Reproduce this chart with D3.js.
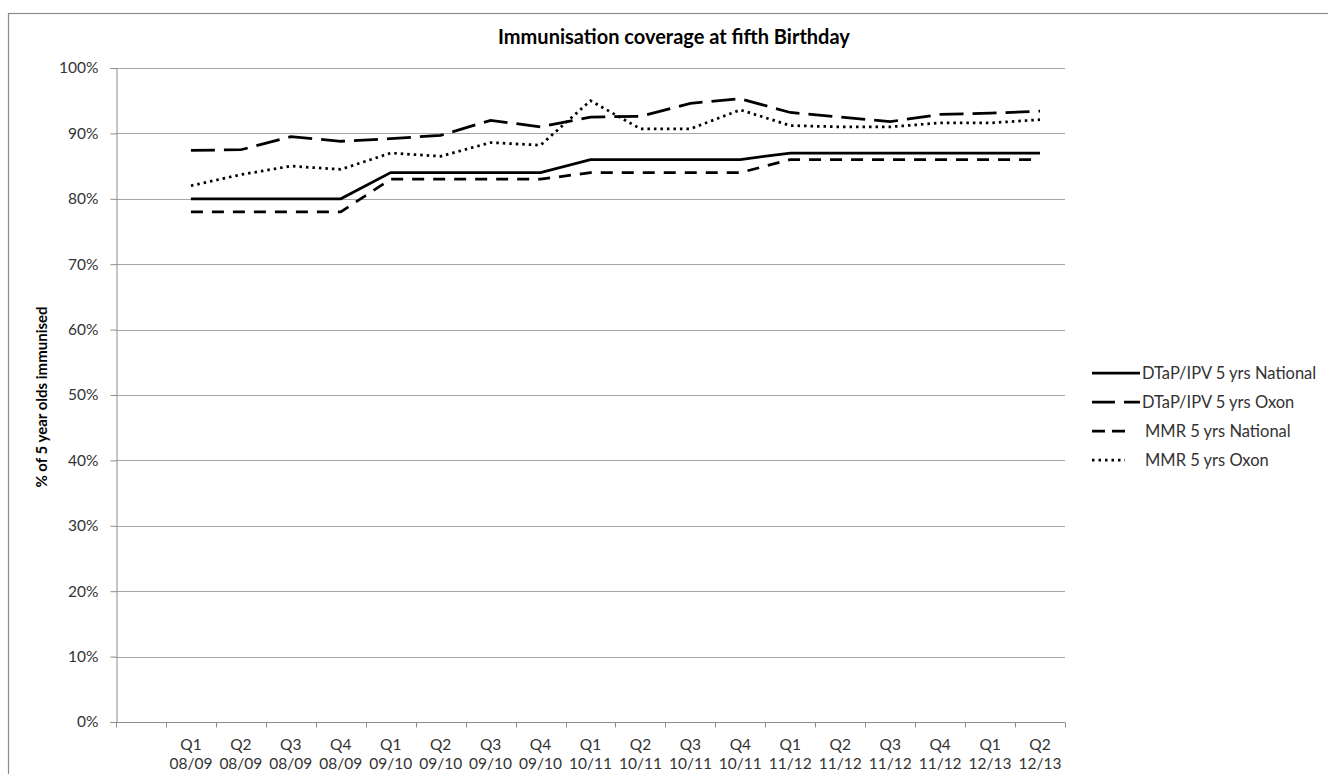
<!DOCTYPE html>
<html>
<head>
<meta charset="utf-8">
<script src="https://cdn.jsdelivr.net/npm/d3@7"></script>
<style>
  body { margin: 0; background: #fff; }
  svg { display: block; font-family: Lato, "Open Sans", sans-serif; }
</style>
</head>
<body>
<svg id="chart" width="1328" height="774"></svg>
<script>
// quarters (first band is left blank, as in the original sheet)
var quarters = ['', 'Q1|08/09', 'Q2|08/09', 'Q3|08/09', 'Q4|08/09',
  'Q1|09/10', 'Q2|09/10', 'Q3|09/10', 'Q4|09/10',
  'Q1|10/11', 'Q2|10/11', 'Q3|10/11', 'Q4|10/11',
  'Q1|11/12', 'Q2|11/12', 'Q3|11/12', 'Q4|11/12',
  'Q1|12/13', 'Q2|12/13'];

var dtapNational = [80, 80, 80, 80, 84, 84, 84, 84, 86, 86, 86, 86, 87, 87, 87, 87, 87, 87];
var dtapOxon     = [87.4, 87.5, 89.5, 88.8, 89.2, 89.7, 92.0, 91.0, 92.5, 92.6, 94.6, 95.3, 93.2, 92.5, 91.8, 92.9, 93.1, 93.4];
var mmrNational  = [78, 78, 78, 78, 83, 83, 83, 83, 84, 84, 84, 84, 86, 86, 86, 86, 86, 86];
var mmrOxon      = [82.0, 83.7, 85.0, 84.5, 87.0, 86.5, 88.6, 88.2, 95.0, 90.7, 90.7, 93.6, 91.2, 91.0, 91.0, 91.6, 91.6, 92.1];

var yTicks = [0, 10, 20, 30, 40, 50, 60, 70, 80, 90, 100];

var seriesNames = ['DTaP/IPV 5 yrs National', 'DTaP/IPV 5 yrs Oxon', 'MMR 5 yrs National', 'MMR 5 yrs Oxon'];

var series = [
  {name: seriesNames[0], values: dtapNational, dash: null},
  {name: seriesNames[1], values: dtapOxon, dash: '24,9'},
  {name: seriesNames[2], values: mmrNational, dash: '12,9'},
  {name: seriesNames[3], values: mmrOxon, dash: '2.5,4'}
];

var svg = d3.select('#chart');

// outer chart border
svg.append('rect')
  .attr('x', 8.5).attr('y', 13.5)
  .attr('width', 1400).attr('height', 900)
  .attr('fill', 'none').attr('stroke', '#8c8c8c').attr('stroke-width', 1.2);

var x = d3.scaleBand().domain(quarters).range([116, 1065]);
var y = d3.scaleLinear().domain([0, 100]).range([722, 68]);

// gridlines
svg.append('g')
  .selectAll('line')
  .data(yTicks.slice(1))
  .join('line')
  .attr('x1', 116).attr('x2', 1065)
  .attr('y1', function(d) { return Math.round(y(d)) + 0.5; })
  .attr('y2', function(d) { return Math.round(y(d)) + 0.5; })
  .attr('stroke', '#a6a6a6');

// y axis
var yAxis = svg.append('g')
  .attr('transform', 'translate(116.5,0)')
  .call(d3.axisLeft(y).tickValues(yTicks).tickSize(6).tickPadding(12)
    .tickFormat(function(d) { return d + '%'; }));
yAxis.select('.domain').attr('stroke', '#8c8c8c');
yAxis.selectAll('.tick line').attr('stroke', '#8c8c8c');
yAxis.selectAll('.tick text')
  .attr('font-size', 15.5).attr('fill', '#333')
  .attr('font-family', 'Lato, sans-serif');

// x axis: ticks sit on the band edges
var xAxis = svg.append('g').attr('transform', 'translate(0,722.5)');
xAxis.append('line')
  .attr('x1', 116).attr('x2', 1065)
  .attr('stroke', '#8c8c8c');
xAxis.selectAll('line.edge')
  .data(quarters.concat(['end']))
  .join('line')
  .attr('class', 'edge')
  .attr('x1', function(d, i) { return Math.round(116 + i * x.step()) + 0.5; })
  .attr('x2', function(d, i) { return Math.round(116 + i * x.step()) + 0.5; })
  .attr('y1', 0).attr('y2', 5)
  .attr('stroke', '#8c8c8c');

var labels = xAxis.selectAll('text')
  .data(quarters.filter(function(d) { return d !== ''; }))
  .join('text')
  .attr('text-anchor', 'middle')
  .attr('font-size', 15.5)
  .attr('fill', '#333')
  .attr('transform', function(d) { return 'translate(' + (x(d) + x.bandwidth() / 2) + ',0)'; });
labels.append('tspan').attr('x', 0).attr('y', 27).text(function(d) { return d.split('|')[0]; });
labels.append('tspan').attr('x', 0).attr('y', 46).text(function(d) { return d.split('|')[1]; });

// lines
var line = d3.line()
  .x(function(d, i) { return x(quarters[i + 1]) + x.bandwidth() / 2; })
  .y(function(d) { return y(d); });

svg.append('g')
  .selectAll('path')
  .data(series)
  .join('path')
  .attr('d', function(s) { return line(s.values); })
  .attr('fill', 'none')
  .attr('stroke', '#000')
  .attr('stroke-width', 2.75)
  .attr('stroke-dasharray', function(s) { return s.dash; });

// title
svg.append('text')
  .attr('x', 674).attr('y', 44)
  .attr('text-anchor', 'middle')
  .attr('font-size', 20).attr('font-weight', 'bold')
  .attr('fill', '#000')
  .text('Immunisation coverage at fifth Birthday');

// y axis title
svg.append('text')
  .attr('transform', 'translate(47,397) rotate(-90)')
  .attr('text-anchor', 'middle')
  .attr('font-size', 15).attr('font-weight', 'bold')
  .attr('fill', '#000')
  .text('% of 5 year olds immunised');

// legend
var legend = svg.append('g')
  .selectAll('g')
  .data(series)
  .join('g')
  .attr('transform', function(d, i) { return 'translate(1092,' + (373 + i * 29) + ')'; });
legend.append('line')
  .attr('x1', 0).attr('x2', function(d, i) { return i < 2 ? 48 : 33; })
  .attr('stroke', '#000').attr('stroke-width', 2.75)
  .attr('stroke-dasharray', function(d, i) { return i === 1 ? '23,9' : i === 2 ? '13,7' : d.dash; });
legend.append('text')
  .attr('x', function(d, i) { return i < 2 ? 50 : 53; })
  .attr('y', 6)
  .attr('font-size', 16.5).attr('fill', '#333')
  .text(function(d) { return d.name; });
</script>
</body>
</html>
